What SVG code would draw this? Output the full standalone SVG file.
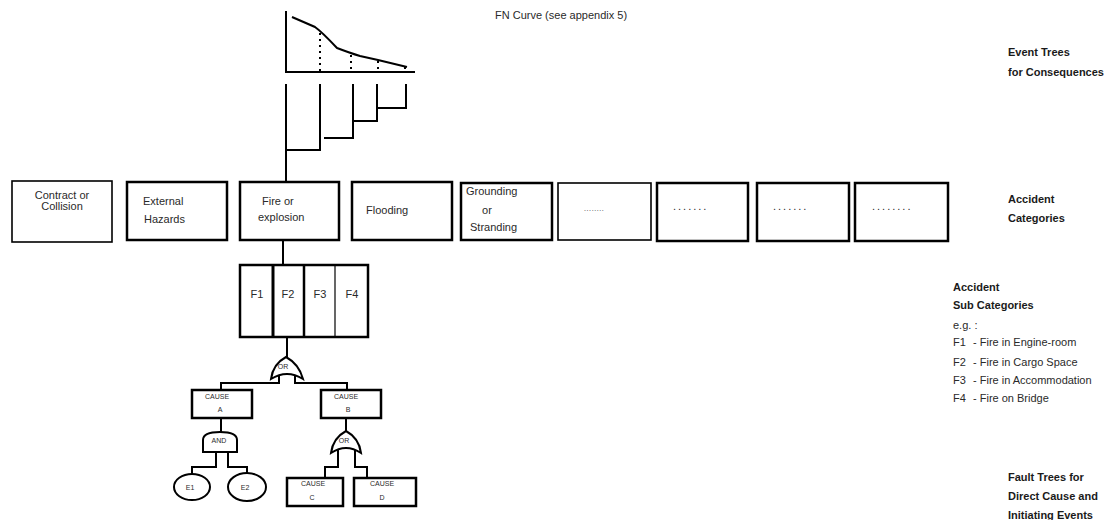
<svg xmlns="http://www.w3.org/2000/svg" width="1110" height="520" viewBox="0 0 1110 520">
<style>
text{font-family:"Liberation Sans",Arial,sans-serif;fill:#2a2a2a}
.t{font-size:11px}
.b{font-size:11px;font-weight:bold;fill:#1a1a1a}
.s{font-size:7px}
.box{fill:#fff;stroke:#000;stroke-width:2.5}
.thin{fill:#fff;stroke:#000;stroke-width:1.6}
.ln{fill:none;stroke:#000;stroke-width:2}
.gate{fill:#fff;stroke:#000;stroke-width:2}
.dot{fill:none;stroke:#000;stroke-width:2;stroke-dasharray:2 4}
</style>
<rect width="1110" height="520" fill="#fff"/>

<g id="fn-curve">
<path class="ln" d="M286,11 V72 H415"/>
<path class="ln" d="M292,17 L315,27 Q322,32 337,48 Q350,53 360,56 L378,60 L407,67"/>
<path class="dot" d="M320,33 V72 M351,55 V72 M378,61 V72 M405,67 V72"/>
<text class="t" x="495" y="19">FN Curve (see appendix 5)</text>
</g>

<g id="connectors">
<path class="ln" d="M286,84 V182"/>
<path class="ln" d="M286,150 H320 V84"/>
<path class="ln" d="M324,138 H353 V84"/>
<path class="ln" d="M353,121 H377 V84"/>
<path class="ln" d="M377,108 H406 V84"/>
<path class="ln" d="M283,240 V265"/>
<path class="ln" d="M287,337 V357"/>
<path class="ln" d="M279,374 V383 H221 V390"/>
<path class="ln" d="M295,374 V383 H347 V390"/>
<path class="ln" d="M221,418 V432"/>
<path class="ln" d="M216,452 V467 H192 V475"/>
<path class="ln" d="M228,452 V467 H247 V474"/>
<path class="ln" d="M346,418 V431"/>
<path class="ln" d="M338,449 V467 H325 V478"/>
<path class="ln" d="M355,449 V467 H367 V478"/>
</g>

<g id="cat-contact">
<rect class="thin" x="12" y="181" width="100" height="61"/>
<text class="t" x="62" y="199" text-anchor="middle">Contract or</text>
<text class="t" x="62" y="210" text-anchor="middle">Collision</text>
</g>
<g id="cat-external">
<rect class="box" x="127" y="182" width="100" height="58"/>
<text class="t" x="143" y="205">External</text>
<text class="t" x="144" y="223">Hazards</text>
</g>
<g id="cat-fire">
<rect class="box" x="240" y="182" width="99" height="58"/>
<text class="t" x="262" y="205">Fire or</text>
<text class="t" x="258" y="221">explosion</text>
</g>
<g id="cat-flooding">
<rect class="box" x="352" y="182" width="100" height="58"/>
<text class="t" x="366" y="214">Flooding</text>
</g>
<g id="cat-grounding">
<rect class="box" x="461" y="183" width="91" height="57"/>
<text class="t" x="466" y="195">Grounding</text>
<text class="t" x="487" y="214" text-anchor="middle">or</text>
<text class="t" x="470" y="231">Stranding</text>
</g>
<g id="cat-6">
<rect class="thin" x="558" y="183" width="93" height="57"/>
<text class="s" x="584" y="211" letter-spacing="0.6">........</text>
</g>
<g id="cat-7">
<rect class="box" x="657" y="183" width="91" height="58"/>
<text class="t" x="673" y="210" letter-spacing="2">.......</text>
</g>
<g id="cat-8">
<rect class="box" x="757" y="183" width="92" height="58"/>
<text class="t" x="773" y="210" letter-spacing="2">.......</text>
</g>
<g id="cat-9">
<rect class="box" x="855" y="183" width="93" height="58"/>
<text class="t" x="872" y="210" letter-spacing="2">........</text>
</g>

<g id="subcats">
<rect class="box" x="240" y="265" width="128" height="72"/>
<line x1="273" y1="265" x2="273" y2="337" stroke="#000" stroke-width="3"/>
<line x1="304" y1="265" x2="304" y2="337" stroke="#000" stroke-width="2.5"/>
<line x1="335" y1="265" x2="335" y2="337" stroke="#000" stroke-width="1.2"/>
<text class="t" x="257" y="298" text-anchor="middle">F1</text>
<text class="t" x="288" y="298" text-anchor="middle">F2</text>
<text class="t" x="320" y="298" text-anchor="middle">F3</text>
<text class="t" x="352" y="298" text-anchor="middle">F4</text>
</g>

<g id="or-gate-1">
<path class="gate" d="M271,379 Q273,364 286,357 Q299,364 303,379 Q287,369 271,379 Z"/>
<text class="s" x="283" y="369" text-anchor="middle">OR</text>
</g>

<g id="cause-a">
<rect class="box" x="192" y="390" width="60" height="28"/>
<text class="s" x="217" y="399" text-anchor="middle">CAUSE</text>
<text class="s" x="220" y="412" text-anchor="middle">A</text>
</g>
<g id="cause-b">
<rect class="box" x="321" y="390" width="60" height="28"/>
<text class="s" x="346" y="399" text-anchor="middle">CAUSE</text>
<text class="s" x="348" y="412" text-anchor="middle">B</text>
</g>

<g id="and-gate">
<path class="gate" d="M203,452 V440 Q203,432 220,432 Q237,432 237,440 V452 Z"/>
<text class="s" x="219" y="443" text-anchor="middle">AND</text>
</g>
<g id="or-gate-2">
<path class="gate" d="M331,453 Q333,438 346,431 Q359,438 361,453 Q346,443 331,453 Z"/>
<text class="s" x="344" y="443" text-anchor="middle">OR</text>
</g>

<g id="e1">
<ellipse cx="192" cy="487" rx="18" ry="13" fill="#fff" stroke="#000" stroke-width="2"/>
<text class="s" x="190" y="490" text-anchor="middle">E1</text>
</g>
<g id="e2">
<ellipse cx="247" cy="487" rx="19" ry="14" fill="#fff" stroke="#000" stroke-width="2"/>
<text class="s" x="245" y="490" text-anchor="middle">E2</text>
</g>

<g id="cause-c">
<rect class="box" x="287" y="478" width="56" height="28"/>
<text class="s" x="313" y="486" text-anchor="middle">CAUSE</text>
<text class="s" x="312" y="500" text-anchor="middle">C</text>
</g>
<g id="cause-d">
<rect class="box" x="354" y="478" width="62" height="28"/>
<text class="s" x="382" y="486" text-anchor="middle">CAUSE</text>
<text class="s" x="382" y="500" text-anchor="middle">D</text>
</g>

<g id="labels">
<text class="b" x="1008" y="56">Event Trees</text>
<text class="b" x="1008" y="76">for Consequences</text>
<text class="b" x="1008" y="203">Accident</text>
<text class="b" x="1008" y="222">Categories</text>
<text class="b" x="953" y="291">Accident</text>
<text class="b" x="953" y="309">Sub Categories</text>
<text class="t" x="953" y="329">e.g. :</text>
<text class="t" x="953" y="346">F1</text><text class="t" x="973" y="346">- Fire in Engine-room</text>
<text class="t" x="953" y="366">F2</text><text class="t" x="973" y="366">- Fire in Cargo Space</text>
<text class="t" x="953" y="384">F3</text><text class="t" x="973" y="384">- Fire in Accommodation</text>
<text class="t" x="953" y="402">F4</text><text class="t" x="973" y="402">- Fire on Bridge</text>
<text class="b" x="1008" y="481">Fault Trees for</text>
<text class="b" x="1008" y="500">Direct Cause and</text>
<text class="b" x="1008" y="519">Initiating Events</text>
</g>
</svg>
